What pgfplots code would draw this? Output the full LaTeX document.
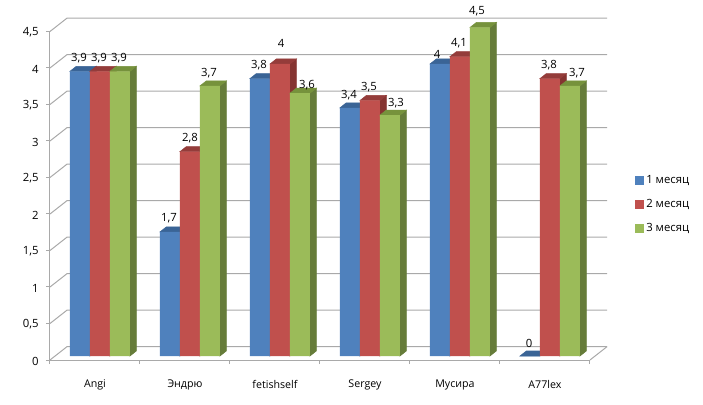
\documentclass[border=0pt]{standalone}
\usepackage{fontspec}
\setmainfont{Open Sans}
\usepackage{pgfplots}
\usepackage{pgfplotstable}
\pgfplotsset{compat=1.18}

\definecolor{blueF}{HTML}{4F81BD}
\definecolor{blueT}{HTML}{3A6496}
\definecolor{blueS}{HTML}{2F5380}
\definecolor{redF}{HTML}{C0504D}
\definecolor{redT}{HTML}{943C3A}
\definecolor{redS}{HTML}{853431}
\definecolor{greenF}{HTML}{9BBB59}
\definecolor{greenT}{HTML}{76923C}
\definecolor{greenS}{HTML}{667C3A}
\definecolor{gridc}{HTML}{A9A9A9}

% x y, label offset from bar centre (dx) and above bar top (dy), in px
\pgfplotstableread{
x y dx dy
0 3.9 -1 13
1 1.7 -1 13.5
2 3.8 -1 13
3 3.4 -1 13
4 4.0 -3 10
5 0 -1 13
}\mone
\pgfplotstableread{
x y dx dy
0 3.9 -1 13
1 2.8 0 13
2 4.0 1 21
3 3.5 -1 13
4 4.1 -1 14
5 3.8 -1 13
}\mtwo
\pgfplotstableread{
x y dx dy
0 3.9 -1 13
1 3.7 -1 13
2 3.6 7 8
3 3.3 6 12
4 4.5 -3 16
5 3.7 7 13
}\mthree

\pgfdeclareplotmark{nothing}{}

\pgfplotsset{
  % side and top faces, drawn behind the front bar
  cube/.style n args={3}{
    scatter, only marks, mark=nothing, forget plot,
    visualization depends on=y \as \barval,
    scatter/@pre marker code/.code={
      \fill[#3] ({#1+7.5pt},3pt)--({#1+12.25pt},6.75pt)--({#1+12.25pt},{6.75pt-\barval*54.75pt})--({#1+7.5pt},{3pt-\barval*54.75pt})--cycle;
      \fill[#2] ({#1-7.5pt},3pt)--({#1+7.5pt},3pt)--({#1+12.25pt},6.75pt)--({#1-2.75pt},6.75pt)--cycle;
    },
    scatter/@post marker code/.code={},
  },
  front/.style n args={2}{
    ybar, bar width=15pt, bar shift=#1, fill=#2, draw=none, yshift=3pt,
    forget plot,
    visualization depends on=\thisrow{dx} \as \ldx,
    visualization depends on=\thisrow{dy} \as \ldy,
    nodes near coords,
    every node near coord/.style={anchor=center, font=\fontsize{8.5}{10}\selectfont,
      text=black, inner sep=0pt, xshift={#1+\ldx*0.75pt}, yshift=\ldy*0.75pt},
  },
}

\begin{document}
\begin{tikzpicture}
\useasboundingbox (-37.5pt,-33pt) rectangle (489.75pt,270pt);
\begin{axis}[
    scale only axis,
    width=405pt,
    height=246.4pt,
    xmin=-0.5, xmax=5.5,
    ymin=0, ymax=4.5,
    clip=false,
    clip mode=individual,
    axis x line*=bottom,
    axis y line*=left,
    axis line style={gridc, -, line width=0.75pt},
    tick style={gridc, line width=0.75pt},
    tick align=outside,
    major tick length=3pt,
    xtick={-0.5,0.5,...,5.5},
    xticklabels={},
    extra x ticks={0,1,2,3,4,5},
    extra x tick labels={Angi,Эндрю,fetishself,Sergey,Мусира,A77lex},
    extra x tick style={major tick length=0pt, tick style={draw=none}},
    x tick label style={font=\fontsize{8}{10}\selectfont, yshift=-11.5pt, text=black},
    ytick={0,0.5,...,4.5},
    y tick label style={font=\fontsize{8.5}{10}\selectfont, text=black, xshift=-2pt, yshift=-0.8pt},
    /pgf/number format/use comma,
    /pgf/number format/assume math mode=true,
    table/x=x, table/y=y,
    legend style={at={(rel axis cs:1.083,0.57)}, anchor=north west, draw=none, fill=none,
      font=\fontsize{8.5}{10}\selectfont, row sep=6.2pt, inner sep=0pt,
      /tikz/every even column/.append style={column sep=4.5pt}},
    legend cell align=left,
]
    % walls and floor
    \pgfplotsinvokeforeach{0,0.5,...,4.5}{
        \draw[gridc, line width=0.75pt] (axis cs:-0.5,#1) -- ++(12.75pt,10pt) -- ++(405pt,0pt);
    }
    \draw[gridc, line width=0.75pt] (axis cs:5.5,0) -- ++(12.75pt,10pt);

    \addplot[cube={-11.25pt}{blueT}{blueS}] table {\mone};
    \addplot[front={-11.25pt}{blueF}] table {\mone};
    \addplot[cube={3.75pt}{redT}{redS}] table {\mtwo};
    \addplot[front={3.75pt}{redF}] table {\mtwo};
    \addplot[cube={18.75pt}{greenT}{greenS}] table {\mthree};
    \addplot[front={18.75pt}{greenF}] table {\mthree};

    \addlegendimage{legend image code/.code={\fill[blueF] (0pt,-3pt) rectangle (6pt,3pt);}}
    \addlegendentry{1 месяц}
    \addlegendimage{legend image code/.code={\fill[redF] (0pt,-3pt) rectangle (6pt,3pt);}}
    \addlegendentry{2 месяц}
    \addlegendimage{legend image code/.code={\fill[greenF] (0pt,-3pt) rectangle (6pt,3pt);}}
    \addlegendentry{3 месяц}
\end{axis}
\end{tikzpicture}
\end{document}
